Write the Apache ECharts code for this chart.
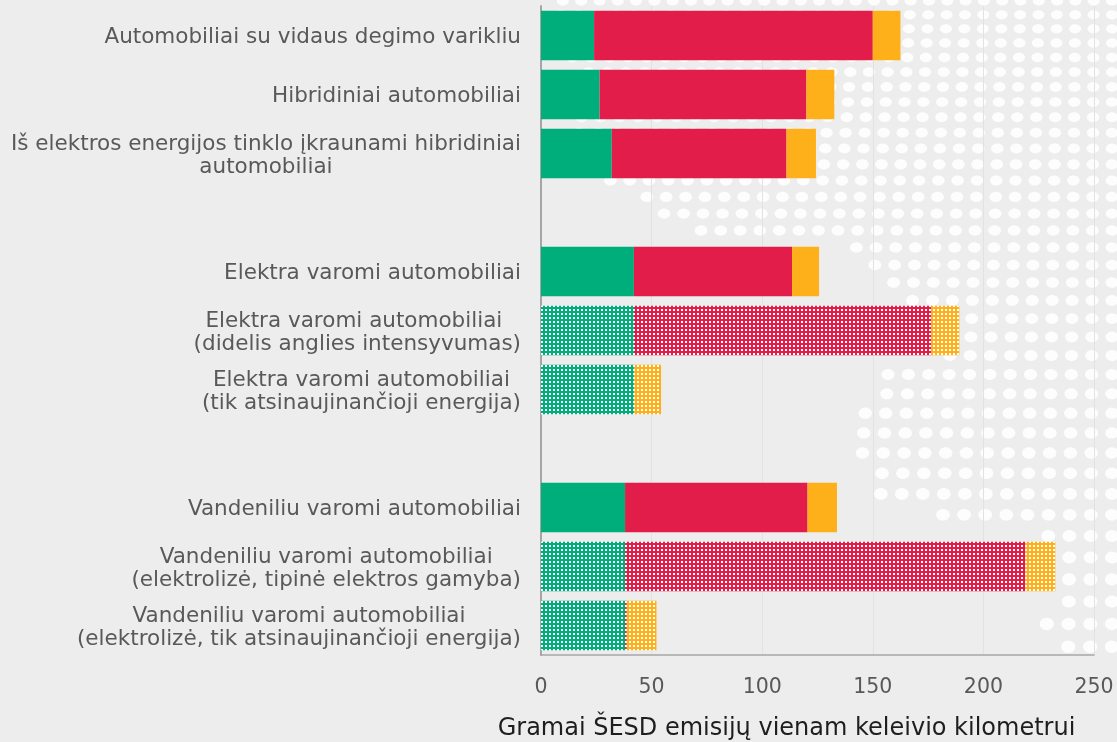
<!DOCTYPE html>
<html>
<head>
<meta charset="utf-8">
<script src="https://cdn.jsdelivr.net/npm/echarts@6/dist/echarts.min.js"></script>
<style>
  html, body { margin: 0; padding: 0; background: #ededed; }
  #main { width: 1117px; height: 742px; }
</style>
</head>
<body>
<div id="main"></div>
<script>
// eilutės (tuščios – tarpai tarp grupių)
const categories = [
  'Automobiliai su vidaus degimo varikliu',
  'Hibridiniai automobiliai',
  'Iš elektros energijos tinklo įkraunami hibridiniai\nautomobiliai',
  ' ',
  'Elektra varomi automobiliai',
  'Elektra varomi automobiliai \n(didelis anglies intensyvumas)',
  'Elektra varomi automobiliai\n(tik atsinaujinančioji energija)',
  '  ',
  'Vandeniliu varomi automobiliai',
  'Vandeniliu varomi automobiliai\n(elektrolizė, tipinė elektros gamyba)',
  'Vandeniliu varomi automobiliai\n(elektrolizė, tik atsinaujinančioji energija)'
]
const vehicleValues = [24, 26.5, 32, '-', 42, 42, 42, '-', 38, 38, 38]
const fuelValues = [126, 93.5, 79, '-', 71.5, 134.5, 0, '-', 82.5, 181, 0.8]
const otherValues = [12.5, 12.6, 13.3, '-', 12.2, 12.6, 12.3, '-', 13.3, 13.5, 13.4]
const hatched = [false, false, false, false, false, true, true, false, false, true, true]
const xTicks = [0, 50, 100, 150, 200, 250]

const GREEN = '#00ae7c'
const RED = '#e31d4a'
const ORANGE = '#fdb01a'
const FONT = 'DejaVu Sans'

function dotted (color) {
  const c = document.createElement('canvas')
  c.width = 4; c.height = 4
  const ctx = c.getContext('2d')
  ctx.fillStyle = color
  ctx.fillRect(0, 0, 4, 4)
  ctx.fillStyle = '#ffffff'
  ctx.fillRect(1, 1, 2, 2)
  return { image: c, repeat: 'repeat' }
}

function withPattern (values, color) {
  const pat = dotted(color)
  return values.map((v, i) => (hatched[i] && v !== '-') ? { value: v, itemStyle: { color: pat } } : v)
}

// fono taškai dešinėje (dekoracija)
const dotStarts = [
  [62, 560], [176, 575], [188, 600], [205, 637], [221, 655], [238, 690],
  [250, 845], [267, 865], [284, 882], [301, 900], [360, 940], [412, 875],
  [455, 848], [475, 866], [495, 866], [515, 930], [535, 970], [555, 1035],
  [620, 1058], [640, 1035], [665, 1056]
]
function dotGraphics () {
  const els = []
  let y = 1
  while (y < 670) {
    let start = null
    for (const [yMax, xs] of dotStarts) {
      if (y <= yMax) { start = xs; break }
    }
    if (start !== null) {
      const h = 18.3 + 0.0055 * y
      const rx = 6 + 0.0017 * y
      const ry = 4.6 + 0.0025 * y
      for (let x = 1112; x >= start; x -= h) {
        els.push({
          type: 'ellipse', silent: true, z: -1,
          shape: { cx: x, cy: y, rx: rx, ry: ry },
          style: { fill: 'rgba(255,255,255,0.85)' }
        })
      }
    }
    y += 13.8 + 0.0144 * y
  }
  return els
}

const chart = echarts.init(document.getElementById('main'))

chart.setOption({
  backgroundColor: '#ededed',
  animation: false,
  textStyle: { fontFamily: FONT },
  graphic: { elements: dotGraphics() },
  grid: { left: 541, right: 23, top: 6, bottom: 87, outerBoundsMode: 'none' },
  xAxis: {
    type: 'value',
    min: xTicks[0],
    max: xTicks[xTicks.length - 1],
    interval: xTicks[1] - xTicks[0],
    name: 'Gramai ŠESD emisijų vienam keleivio kilometrui',
    nameLocation: 'middle',
    nameGap: 62,
    nameTextStyle: { fontSize: 24, color: '#1e1e1e', fontFamily: FONT, padding: [0, 62, 0, 0] },
    axisLine: { show: true, lineStyle: { color: '#a6a6a6', width: 1.5 } },
    axisTick: { show: false },
    splitLine: { show: true, lineStyle: { color: '#e2e2e2', width: 1 } },
    axisLabel: { fontSize: 20.5, color: '#595959', margin: 22, fontFamily: FONT }
  },
  yAxis: {
    type: 'category',
    inverse: true,
    data: categories,
    axisLine: { show: true, lineStyle: { color: '#a6a6a6', width: 2 } },
    axisTick: { show: false },
    splitLine: { show: false },
    axisLabel: {
      interval: 0,
      margin: 20,
      padding: [4, 0, 0, 0],
      formatter: v => v.split('\n').map(s => '{c|' + s + '}').join('\n'),
      rich: {
        c: { align: 'center', fontSize: 21.5, lineHeight: 23, color: '#595959', fontFamily: FONT }
      }
    }
  },
  series: [
    {
      name: 'Transporto priemonė',
      type: 'bar',
      stack: 'total',
      barCategoryGap: '16%',
      itemStyle: { color: GREEN },
      data: withPattern(vehicleValues, GREEN)
    },
    {
      name: 'Degalai ir energija',
      type: 'bar',
      stack: 'total',
      barCategoryGap: '16%',
      itemStyle: { color: RED },
      data: withPattern(fuelValues, RED)
    },
    {
      name: 'Kita',
      type: 'bar',
      stack: 'total',
      barCategoryGap: '16%',
      itemStyle: { color: ORANGE },
      data: withPattern(otherValues, ORANGE)
    }
  ]
})
</script>
</body>
</html>
